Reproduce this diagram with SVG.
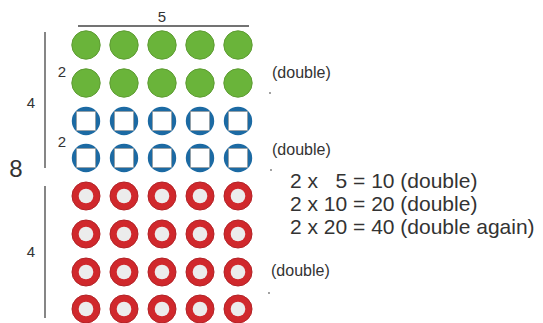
<svg xmlns="http://www.w3.org/2000/svg" width="543" height="323" viewBox="0 0 543 323">
<defs>
<style>
text{font-family:"Liberation Sans",Arial,sans-serif;fill:#333}
.sm{font-size:15px}
.lb{font-size:16px}
.eq{font-size:21px;white-space:pre}
.big{font-size:24px}
.ln{stroke:#444;stroke-width:1.3;fill:none}
.g{fill:#6ab43a;stroke:#5e9c33;stroke-width:1}
.b{fill:#1c6aa3}
.sq{fill:#fff;stroke:#8a8a8a;stroke-width:0.6}
.r{fill:#d0282c;stroke:#b22226;stroke-width:1}
.ri{fill:#ececec}
.dot{fill:#777}
</style>
<g id="green"><circle class="g" r="14.2" cx="0" cy="0"/></g>
<g id="blue"><circle class="b" r="14.2" cx="0" cy="0"/><rect class="sq" x="-9.6" y="-9.6" width="19.2" height="19.2"/></g>
<g id="red"><circle class="r" r="14" cx="0" cy="0"/><circle class="ri" r="7.3" cx="0" cy="0"/></g>
</defs>
<rect width="543" height="323" fill="#fff"/>
<g id="connectors">
<line class="ln" x1="78" y1="26" x2="249" y2="26"/>
<line class="ln" x1="45" y1="32" x2="45" y2="168"/>
<line class="ln" x1="45" y1="186" x2="45" y2="318"/>
</g>
<g id="labels">
<text class="sm" x="162" y="22" text-anchor="middle">5</text>
<text class="sm" x="31" y="108" text-anchor="middle">4</text>
<text class="sm" x="31" y="257" text-anchor="middle">4</text>
<text class="sm" x="62" y="77" text-anchor="middle">2</text>
<text class="sm" x="62" y="147" text-anchor="middle">2</text>
<text class="big" x="16" y="177" text-anchor="middle">8</text>
<text class="lb" x="272" y="78">(double)</text>
<text class="lb" x="272" y="155">(double)</text>
<text class="lb" x="271" y="276">(double)</text>
<circle class="dot" cx="270" cy="93" r="0.9"/>
<circle class="dot" cx="271" cy="170" r="0.9"/>
<circle class="dot" cx="269" cy="293" r="0.9"/>
<text class="eq" x="290" y="188">2 x   5 = 10 (double)</text>
<text class="eq" x="290" y="211">2 x 10 = 20 (double)</text>
<text class="eq" x="290" y="234">2 x 20 = 40 (double again)</text>
</g>
<g id="row1"><use href="#green" x="86" y="45"/><use href="#green" x="124" y="45"/><use href="#green" x="162" y="45"/><use href="#green" x="200" y="45"/><use href="#green" x="238" y="45"/></g>
<g id="row2"><use href="#green" x="86" y="83"/><use href="#green" x="124" y="83"/><use href="#green" x="162" y="83"/><use href="#green" x="200" y="83"/><use href="#green" x="238" y="83"/></g>
<g id="row3"><use href="#blue" x="86" y="121"/><use href="#blue" x="124" y="121"/><use href="#blue" x="162" y="121"/><use href="#blue" x="200" y="121"/><use href="#blue" x="238" y="121"/></g>
<g id="row4"><use href="#blue" x="86" y="158"/><use href="#blue" x="124" y="158"/><use href="#blue" x="162" y="158"/><use href="#blue" x="200" y="158"/><use href="#blue" x="238" y="158"/></g>
<g id="row5"><use href="#red" x="86" y="196"/><use href="#red" x="124" y="196"/><use href="#red" x="162" y="196"/><use href="#red" x="200" y="196"/><use href="#red" x="238" y="196"/></g>
<g id="row6"><use href="#red" x="86" y="234"/><use href="#red" x="124" y="234"/><use href="#red" x="162" y="234"/><use href="#red" x="200" y="234"/><use href="#red" x="238" y="234"/></g>
<g id="row7"><use href="#red" x="86" y="272"/><use href="#red" x="124" y="272"/><use href="#red" x="162" y="272"/><use href="#red" x="200" y="272"/><use href="#red" x="238" y="272"/></g>
<g id="row8"><use href="#red" x="86" y="309"/><use href="#red" x="124" y="309"/><use href="#red" x="162" y="309"/><use href="#red" x="200" y="309"/><use href="#red" x="238" y="309"/></g>
</svg>
